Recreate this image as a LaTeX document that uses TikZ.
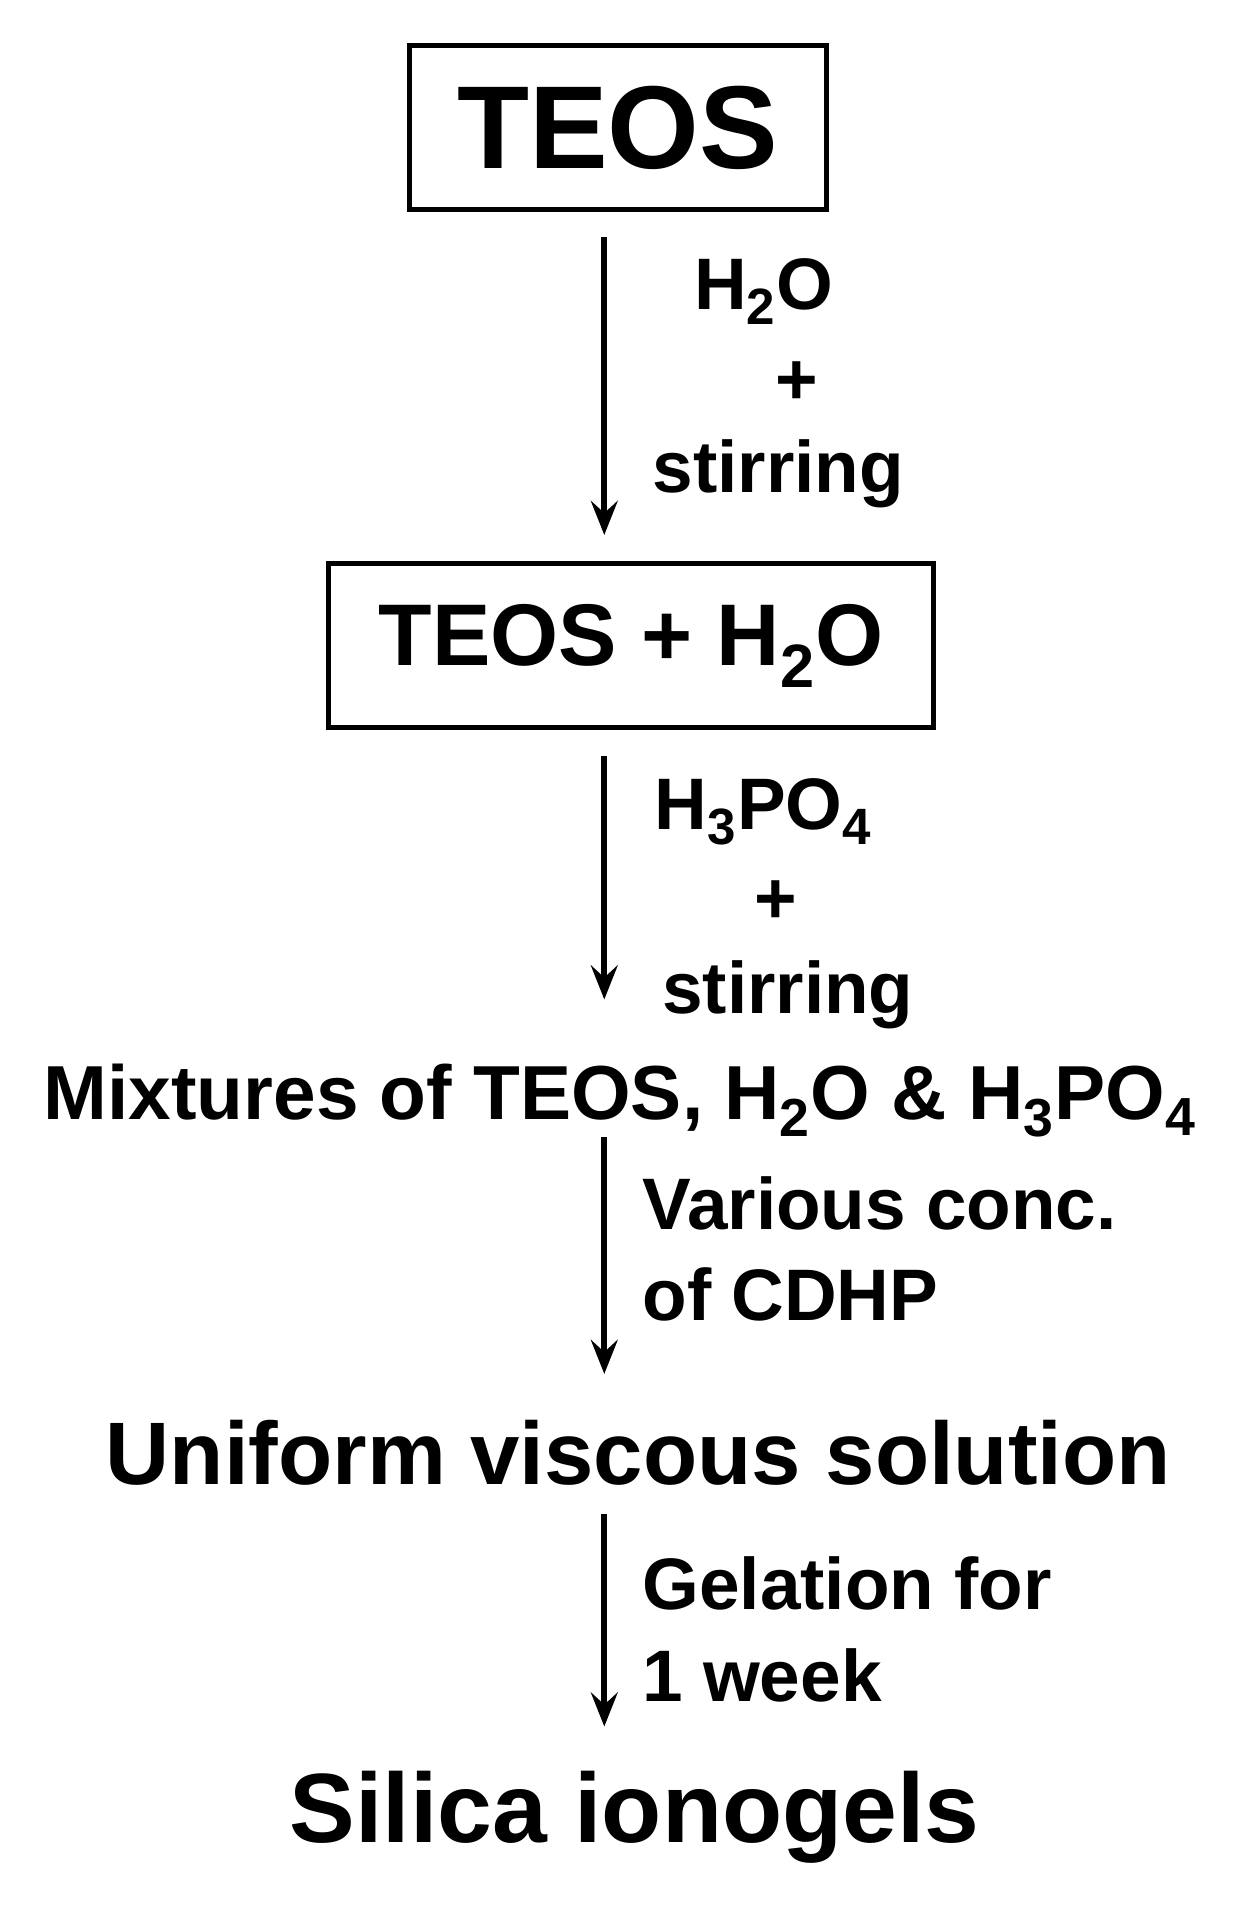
\documentclass[tikz,border=0pt]{standalone}
\usepackage{fontspec}
\setmainfont{Liberation Sans}
\usetikzlibrary{arrows.meta}
\tikzset{
 arr/.style={-{Stealth[length=14pt,width=11pt,inset=5pt]},line width=2.4pt},
 lab/.style={font=\bfseries\fontsize{30}{34}\selectfont,inner sep=0pt},
}
\begin{document}
\begin{tikzpicture}[x=0.5pt,y=-0.5pt]
\useasboundingbox (0,0) rectangle (1024,1589);
\node[draw,line width=2pt,minimum width=171.5pt,minimum height=67.5pt,font=\bfseries\fontsize{48.5}{52}\selectfont] (a) at (508,105) {TEOS};
\node[draw,line width=2pt,minimum width=249pt,minimum height=67.5pt,font=\bfseries\fontsize{36}{40}\selectfont] (b) at (519,531) {TEOS + H\textsubscript{2}O};
\node[font=\bfseries\fontsize{31.5}{35}\selectfont,inner sep=0pt] (c) at (510,905) {Mixtures of TEOS, H\textsubscript{2}O \& H\textsubscript{3}PO\textsubscript{4}};
\node[font=\bfseries\fontsize{36.5}{40}\selectfont,inner sep=0pt] (d) at (525,1195) {Uniform viscous solution};
\node[font=\bfseries\fontsize{40.5}{44}\selectfont,inner sep=0pt] (e) at (522,1495) {Silica ionogels};
\coordinate (a1) at (497,195); \coordinate (a2) at (497,440);
\coordinate (b1) at (497,622); \coordinate (b2) at (497,822);
\coordinate (c1) at (497,935); \coordinate (c2) at (497,1130);
\coordinate (d1) at (497,1245); \coordinate (d2) at (497,1420);
\draw[arr] (a1) -- (a2);
\draw[arr] (b1) -- (b2);
\draw[arr] (c1) -- (c2);
\draw[arr] (d1) -- (d2);
\node[lab] (l1) at (628,240) {H\textsubscript{2}O};
\node[lab] (l2) at (655,315) {+};
\node[lab] (l3) at (640,390) {stirring};
\node[lab] (l4) at (628,668) {H\textsubscript{3}PO\textsubscript{4}};
\node[lab] (l5) at (638,742) {+};
\node[lab] (l6) at (648,818) {stirring};
\node[lab,anchor=west] (l7) at (528,990) {Various conc.};
\node[lab,anchor=west] (l8) at (528,1065) {of CDHP};
\node[lab,anchor=west] (l9) at (528,1302) {Gelation for};
\node[lab,anchor=west] (l10) at (528,1378) {1 week};
\end{tikzpicture}
\end{document}
